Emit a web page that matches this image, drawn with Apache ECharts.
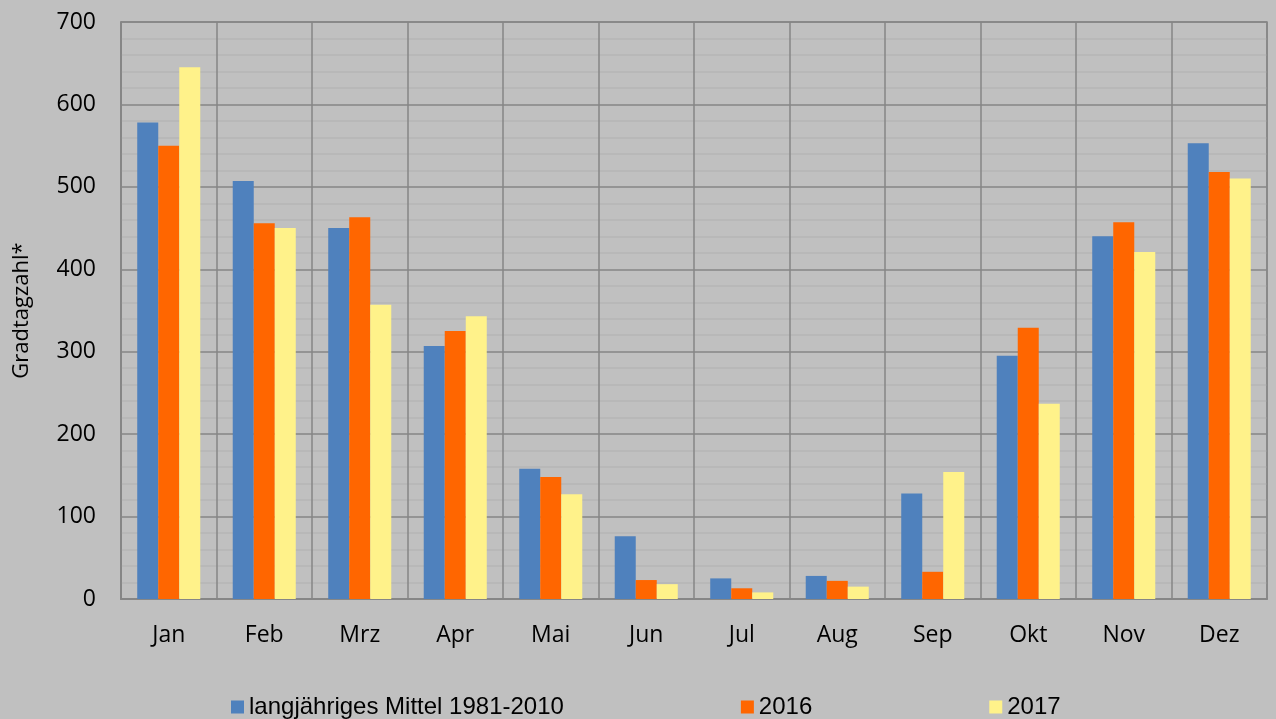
<!DOCTYPE html>
<html>
<head>
<meta charset="utf-8">
<script src="https://cdn.jsdelivr.net/npm/echarts@6/dist/echarts.min.js"></script>
<style>
  html, body { margin: 0; padding: 0; background: #c0c0c0; }
  #chart { width: 1276px; height: 719px; }
</style>
</head>
<body>
<div id="chart"></div>
<script>
const months = ["Jan", "Feb", "Mrz", "Apr", "Mai", "Jun", "Jul", "Aug", "Sep", "Okt", "Nov", "Dez"];
const mittel = [578, 507, 450, 307, 158, 76, 25, 28, 128, 295, 440, 553];
const werte2016 = [550, 456, 463, 325, 148, 23, 13, 22, 33, 329, 457, 518];
const werte2017 = [645, 450, 357, 343, 127, 18, 8, 15, 154, 237, 421, 510];

const chart = echarts.init(document.getElementById("chart"));

const bar = (name, data, color) => ({
  name,
  type: "bar",
  data,
  barGap: 0,
  barCategoryGap: "34%",
  itemStyle: { color },
  animation: false,
});

chart.setOption({
  backgroundColor: "#c0c0c0",
  grid: {
    left: 121,
    right: 9,
    top: 22,
    bottom: 120,
    show: true,
    borderColor: "#868686",
    borderWidth: 1.5,
  },
  legend: {
    left: 226,
    top: 690,
    itemWidth: 13,
    itemHeight: 13,
    itemGap: 177,
    icon: "rect",
    textStyle: { fontFamily: "Liberation Sans", fontSize: 24, color: "#000" },
  },
  xAxis: {
    type: "category",
    data: months,
    axisTick: { show: false },
    axisLine: { lineStyle: { color: "#868686", width: 2 } },
    axisLabel: { fontFamily: "Open Sans", fontSize: 23, color: "#000", margin: 25 },
    splitLine: { show: true, lineStyle: { color: "#868686", width: 1.5 } },
  },
  yAxis: {
    type: "value",
    min: 0,
    max: 700,
    interval: 100,
    name: "Gradtagzahl*",
    nameLocation: "middle",
    nameGap: 88,
    nameTextStyle: { fontFamily: "Open Sans", fontSize: 22, color: "#000" },
    axisLine: { show: true, lineStyle: { color: "#868686", width: 1.5 } },
    axisTick: { show: false },
    axisLabel: { fontFamily: "Open Sans", fontSize: 23, color: "#000", margin: 25 },
    splitLine: { lineStyle: { color: "#868686", width: 1.5 } },
    minorTick: { show: false, splitNumber: 5 },
    minorSplitLine: { show: true, lineStyle: { color: "#b5b5b5", width: 1.5 } },
  },
  series: [
    bar("langjähriges Mittel 1981-2010", mittel, "#4f81bd"),
    bar("2016", werte2016, "#ff6600"),
    bar("2017", werte2017, "#fff28a"),
  ],
});
</script>
</body>
</html>
